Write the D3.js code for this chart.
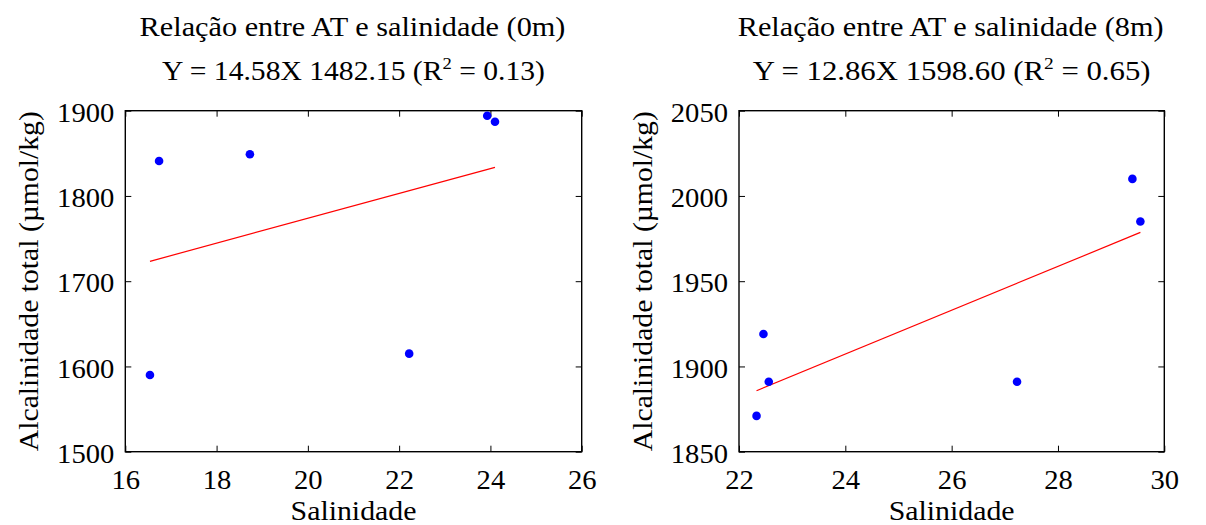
<!DOCTYPE html>
<html><head><meta charset="utf-8">
<script src="https://cdn.jsdelivr.net/npm/d3@7"></script>
<style>
body{margin:0;background:#fff;}
text{font-family:"Liberation Serif","Times New Roman",serif;fill:#000;}
</style></head>
<body><svg id="c" width="1206" height="525"></svg>
<script>
// Panel 1 (0m)
const sal0 = [16.54, 16.74, 18.73, 22.22, 23.93, 24.10];
const at0  = [1590, 1841, 1849, 1615, 1894, 1887];
const fit0 = {slope: 14.58, intercept: 1482.15};
const xTicks0 = [16, 18, 20, 22, 24, 26];
const yTicks0 = [1500, 1600, 1700, 1800, 1900];
const title0 = "Relação entre AT e salinidade (0m)";
const eq0 = ["Y = 14.58X 1482.15 (R", "2", " = 0.13)"];

// Panel 2 (8m)
const sal8 = [22.33, 22.46, 22.56, 27.23, 29.40, 29.55];
const at8  = [1871, 1919, 1891, 1891, 2010, 1985];
const fit8 = {slope: 12.86, intercept: 1598.60};
const xTicks8 = [22, 24, 26, 28, 30];
const yTicks8 = [1850, 1900, 1950, 2000, 2050];
const title8 = "Relação entre AT e salinidade (8m)";
const eq8 = ["Y = 12.86X 1598.60 (R", "2", " = 0.65)"];

const xLabel = "Salinidade";
const yLabel = "Alcalinidade total (µmol/kg)";

const svg = d3.select("#c");
const FS = 27;      // label font size
const TFS = 27;     // tick font size
const TSX = 1.06;   // tick horizontal stretch

// place a text centered at (cx,y) and stretch it horizontally to a target width
function fitText(sel, cx, y, target){
  const w = sel.node().getComputedTextLength();
  const s = target / w;
  sel.attr("x",0).attr("y",0).attr("text-anchor","middle")
     .attr("transform",`translate(${cx},${y}) scale(${s},1)`);
}

function panel(o){
  const g = svg.append("g");
  const x = d3.scaleLinear().domain([o.xt[0], o.xt[o.xt.length-1]]).range([o.left, o.right]);
  const y = d3.scaleLinear().domain([o.yt[0], o.yt[o.yt.length-1]]).range([o.bottom, o.top]);
  const clean = (sel) => {
    sel.select(".domain").remove();
    sel.attr("font-family", null).attr("font-size", null);
    sel.selectAll(".tick line").attr("stroke","#000").attr("stroke-width",1);
  };
  const gb = g.append("g").attr("transform",`translate(0,${o.bottom})`)
    .call(d3.axisBottom(x).tickValues(o.xt).tickFormat(d3.format("d")).tickSize(-6)).call(clean);
  gb.selectAll(".tick text").attr("y",0).attr("dy",null).style("font-size",TFS+"px")
    .attr("transform",`translate(0,${o.xTickBase - o.bottom}) scale(${TSX},1)`);
  g.append("g").attr("transform",`translate(0,${o.top})`)
    .call(d3.axisTop(x).tickValues(o.xt).tickSize(-6)).call(clean).selectAll(".tick text").remove();
  const gl = g.append("g").attr("transform",`translate(${o.left},0)`)
    .call(d3.axisLeft(y).tickValues(o.yt).tickFormat(d3.format("d")).tickSize(-6)).call(clean);
  gl.selectAll(".tick text").attr("x",0).attr("dy","0.36em").style("font-size",TFS+"px")
    .attr("transform",`translate(-11,1) scale(${TSX},1)`);
  g.append("g").attr("transform",`translate(${o.right},0)`)
    .call(d3.axisRight(y).tickValues(o.yt).tickSize(-6)).call(clean).selectAll(".tick text").remove();
  // box
  g.append("rect").attr("x",o.left).attr("y",o.top).attr("width",o.right-o.left).attr("height",o.bottom-o.top)
    .attr("fill","none").attr("stroke","#000").attr("stroke-width",1.4);
  // fit line
  const xs = d3.extent(o.xs);
  g.append("line")
    .attr("x1", x(xs[0])).attr("y1", y(o.fit.slope*xs[0]+o.fit.intercept))
    .attr("x2", x(xs[1])).attr("y2", y(o.fit.slope*xs[1]+o.fit.intercept))
    .attr("stroke","#ff0000").attr("stroke-width",1.2);
  // points
  g.selectAll("circle.p").data(o.xs.map((v,i)=>[v,o.ys[i]])).enter().append("circle")
    .attr("cx",d=>x(d[0])).attr("cy",d=>y(d[1])).attr("r",4.3).attr("fill","#0000ff");
  const cx = (o.left+o.right)/2;
  const t1 = g.append("text").style("font-size",FS+"px").text(o.title);
  fitText(t1, cx - 1, 36, 426);
  const t2 = g.append("text").style("font-size",FS+"px");
  t2.append("tspan").text(o.eq[0]);
  t2.append("tspan").attr("dy",-11).style("font-size","17px").text(o.eq[1]);
  t2.append("tspan").attr("dy",11).text(o.eq[2]);
  fitText(t2, cx, 80, o.eqW);
  const xl = g.append("text").style("font-size",FS+"px").text(xLabel);
  fitText(xl, cx, 520, 126);
  const yl = g.append("text").style("font-size",FS+"px").text(yLabel);
  const w = yl.node().getComputedTextLength();
  yl.attr("x",0).attr("y",0).attr("text-anchor","middle")
    .attr("transform",`translate(${o.left - 87},${(o.top+o.bottom)/2}) rotate(-90) scale(${340/w},1)`);
}

panel({left:125.3,right:581.7,top:110.7,bottom:451.7,xTickBase:489,xt:xTicks0,yt:yTicks0,xs:sal0,ys:at0,fit:fit0,title:title0,eq:eq0,eqW:383});
panel({left:739,right:1164.3,top:110.7,bottom:451.7,xTickBase:489,xt:xTicks8,yt:yTicks8,xs:sal8,ys:at8,fit:fit8,title:title8,eq:eq8,eqW:398});
</script></body></html>
